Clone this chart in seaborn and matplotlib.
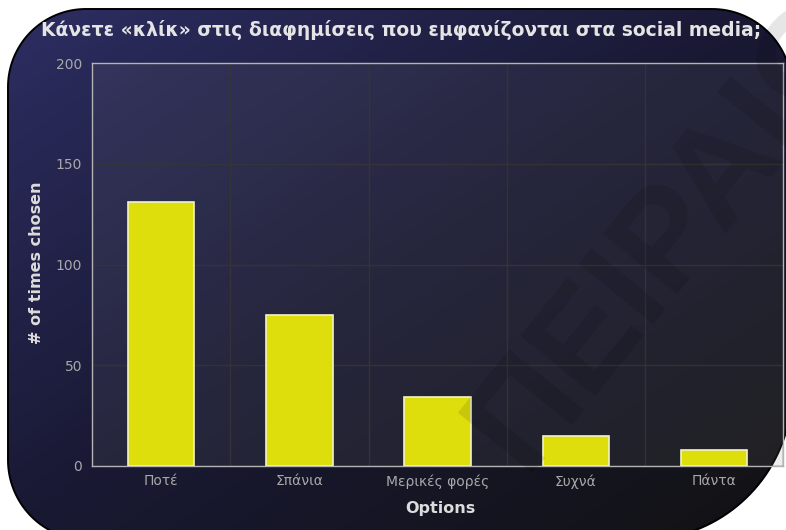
import numpy as np
import matplotlib
matplotlib.use("Agg")
import matplotlib.pyplot as plt
import seaborn as sns
from matplotlib.path import Path
from matplotlib.patches import PathPatch

# Survey answers and how many times each one was chosen
options = ["Ποτέ", "Σπάνια", "Μερικές φορές", "Συχνά", "Πάντα"]
times_chosen = [131, 75, 34, 15, 8]
y_ticks = [0, 50, 100, 150, 200]
title = "Κάνετε «κλίκ» στις διαφημίσεις που εμφανίζονται στα social media;"
x_label = "Options"
y_label = "# of times chosen"
watermark = "ΠΕΙΡΑΙΩΣ"

W, H = 786, 530

sns.set_theme(style="dark")
plt.rcParams["font.family"] = ["DejaVu Sans"]

fig = plt.figure(figsize=(W / 100, H / 100), dpi=100)
fig.patch.set_facecolor("white")


def rounded_panel(x0, y0, x1, y1, r_tl, r_tr, r_br, r_bl, n=40):
    """Closed outline of a rectangle with individually rounded corners (pixel coords, y down)."""
    pts = []

    def arc(cx, cy, r, a0, a1):
        a = np.radians(np.linspace(a0, a1, n))
        return list(zip(cx + r * np.cos(a), cy + r * np.sin(a)))

    pts += arc(x1 - r_tr, y0 + r_tr, r_tr, -90, 0)
    pts += arc(x1 - r_br, y1 - r_br, r_br, 0, 90)
    pts += arc(x0 + r_bl, y1 - r_bl, r_bl, 90, 180)
    pts += arc(x0 + r_tl, y0 + r_tl, r_tl, 180, 270)
    pts.append(pts[0])
    codes = [Path.MOVETO] + [Path.LINETO] * (len(pts) - 2) + [Path.CLOSEPOLY]
    return Path(pts, codes)


# Background panel: diagonal navy-to-black gradient inside a rounded card
bg = fig.add_axes([0, 0, 1, 1], zorder=-10)
bg.set_xlim(0, W)
bg.set_ylim(H, 0)
bg.axis("off")

yy, xx = np.mgrid[0:H, 0:W]
t = np.clip((xx / W + yy / H) / 2.0, 0, 1)
stops_t = [0.0, 0.5, 1.0]
stops_c = np.array([[46, 46, 100], [25, 25, 52], [18, 18, 19]]) / 255.0
img = np.stack([np.interp(t, stops_t, stops_c[:, k]) for k in range(3)], axis=-1)

outline = rounded_panel(8, 9, 792, 540, 78, 80, 150, 80)
panel = PathPatch(outline, transform=bg.transData, facecolor="none",
                  edgecolor="black", lw=1.4)
im = bg.imshow(img, extent=[0, W, H, 0], interpolation="bilinear")
im.set_clip_path(panel)
bg.add_patch(panel)

# Main chart axes
ax = fig.add_axes([92 / W, (H - 465.7) / H, (783.3 - 92) / W, (465.7 - 63.3) / H])
ax.set_facecolor((0.5, 0.5, 0.5, 0.13))

sns.barplot(x=options, y=times_chosen, ax=ax, color="#dede0c", saturation=1,
            width=0.48, edgecolor="#f2f2c4", linewidth=1.2, zorder=3)

ax.set_xlim(-0.5, len(options) - 0.5)
ax.set_ylim(y_ticks[0], y_ticks[-1])
ax.set_yticks(y_ticks)

# Category boundaries carry the ticks and grid; names sit between them
ax.set_xticks(np.arange(-0.5, len(options), 1.0))
ax.set_xticklabels([])
ax.set_xticks(range(len(options)), minor=True)
ax.set_xticklabels(options, minor=True)

ax.set_xlabel("")
ax.set_ylabel("")
ax.set_axisbelow(True)
ax.grid(True, which="major", color="#363636", alpha=0.85, lw=1)
ax.grid(False, which="minor")

for s in ax.spines.values():
    s.set_visible(True)
    s.set_color("#b4b4b4")
    s.set_linewidth(1)

ax.tick_params(axis="both", which="major", colors="#b4b4b4", direction="out",
               length=5, width=1, labelsize=10, labelcolor="#a8a8a8", pad=2)
ax.tick_params(axis="x", which="minor", length=0, labelsize=10,
               labelcolor="#a8a8a8", pad=6)

# Titles and axis labels
fig.text(401 / W, 1 - 30 / H, title, ha="center", va="center", fontsize=13.5,
         fontweight="bold", color="#e4e4e4")
fig.text(37 / W, 1 - 263 / H, y_label, rotation=90, ha="center", va="center",
         fontsize=11.5, fontweight="bold", color="#dcdcdc")
fig.text(440 / W, 1 - 508 / H, x_label, ha="center", va="center",
         fontsize=11.5, fontweight="bold", color="#dcdcdc")

# Faint diagonal watermark
fig.text(523 / W, 1 - 473 / H, watermark, rotation=51, rotation_mode="anchor",
         ha="left", va="baseline", fontsize=100, fontweight="bold",
         family=["Liberation Sans", "DejaVu Sans"],
         color="black", alpha=0.1, zorder=10)

fig.savefig("out.png", dpi=100)
